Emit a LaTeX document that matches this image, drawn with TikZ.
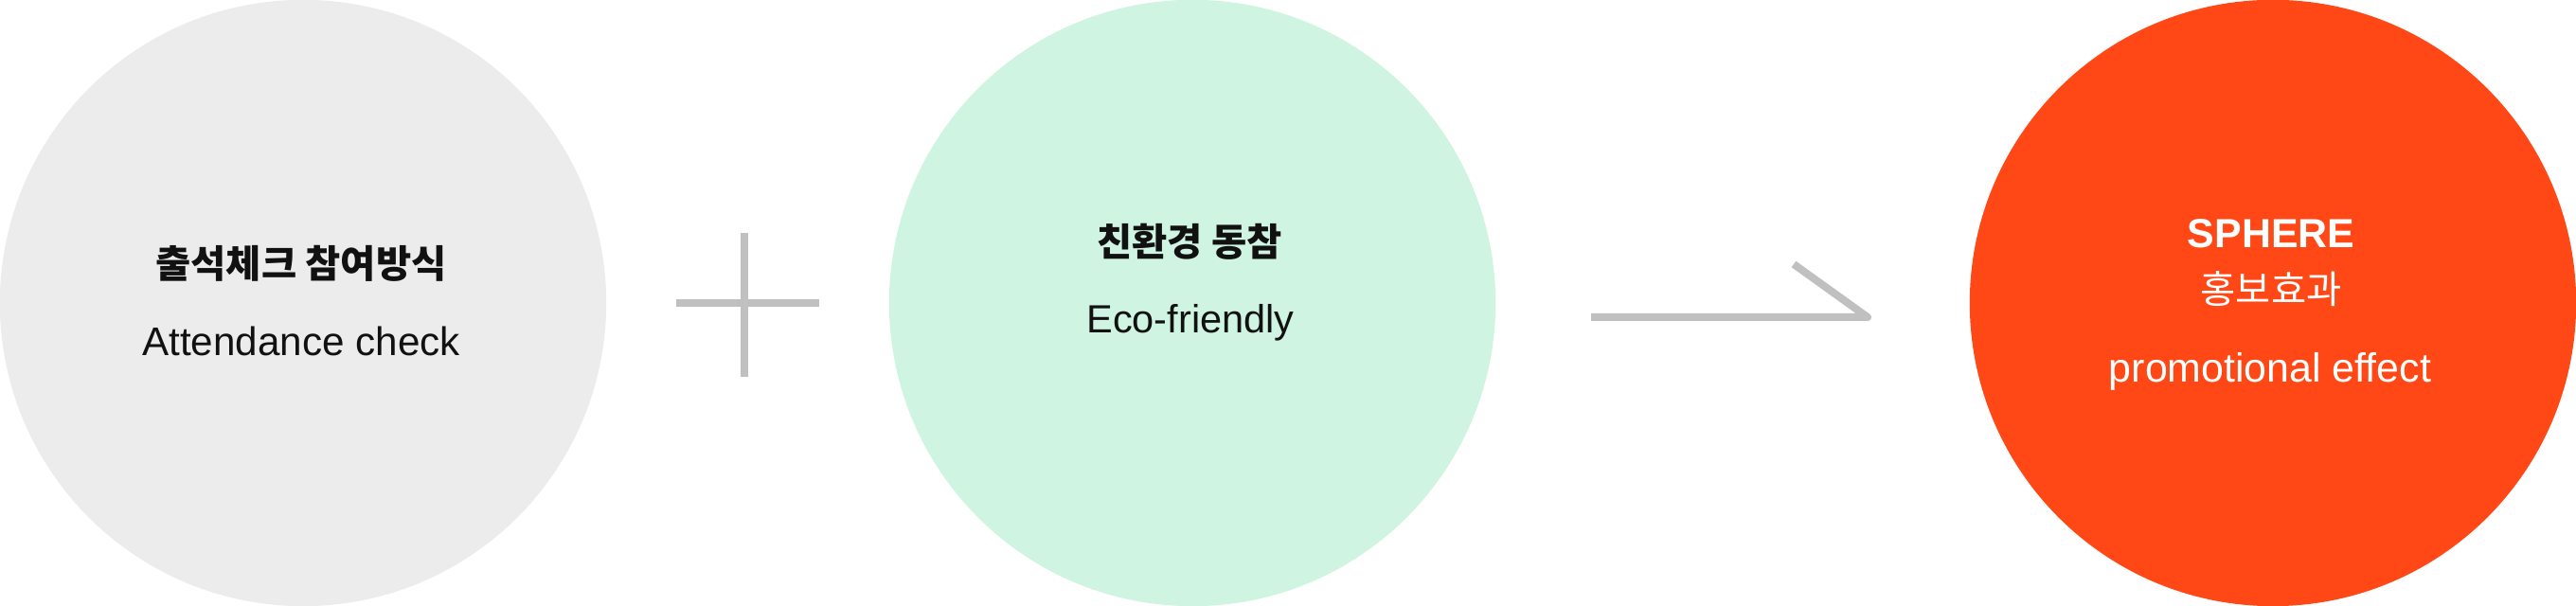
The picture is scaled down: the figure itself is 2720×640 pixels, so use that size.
\documentclass[tikz,border=0pt]{standalone}
\usepackage{fontspec}
\setmainfont{Liberation Sans}
\newfontfamily\krfont{Noto Sans CJK KR}
\usetikzlibrary{positioning}

\definecolor{ballgray}{HTML}{ECECEC}
\definecolor{ballmint}{HTML}{CFF4E2}
\definecolor{ballred}{HTML}{FF4816}
\definecolor{signgray}{HTML}{C0C0C0}
\definecolor{inkblack}{HTML}{111111}

\begin{document}
\begin{tikzpicture}[x=0.01cm, y=0.01cm,
                    ball/.style={circle,minimum size=6.4cm,inner sep=0pt},
                    ko label/.style={anchor=base,inner sep=0pt,text=inkblack,font=\krfont\bfseries\fontsize{11.5}{13}\selectfont},
                    en label/.style={anchor=base,inner sep=0pt,text=inkblack,font=\fontsize{12}{14}\selectfont},
                    sign/.style={draw=signgray,line width=0.08cm}]

  \useasboundingbox (0,0) rectangle (2720,640);

  \node[ball,fill=ballgray] (check) at (320,320) {};
  \node[ball,fill=ballmint] (eco) at (1259,320) {};
  \node[ball,fill=ballred] (sphere) at (2400,320) {};

  \node[ko label] (check ko) at (318,346) {출석체크 참여방식};
  \node[en label] (check en) at (318,264) {Attendance check};

  \node[ko label] (eco ko) at (1256,369) {친환경 동참};
  \node[en label,font=\fontsize{11.8}{14}\selectfont] (eco en) at (1257,288) {Eco-friendly};

  \node[en label,text=white,font=\bfseries\fontsize{12.2}{14}\selectfont] (sphere name) at (2398,378) {SPHERE};
  \node[ko label,text=white,font=\krfont\fontsize{11.5}{13}\selectfont] (sphere ko) at (2398,319) {홍보효과};
  \node[en label,text=white,font=\fontsize{12.2}{14}\selectfont] (sphere en) at (2397,236) {promotional effect};

  % plus between the first two
  \coordinate (plus w) at (714,320);
  \coordinate (plus e) at (865,320);
  \coordinate (plus n) at (786,394);
  \coordinate (plus s) at (786,242);
  \draw[sign] (plus w) -- (plus e);
  \draw[sign] (plus n) -- (plus s);

  % arrow to the result
  \coordinate (arrow tail) at (1680,305);
  \coordinate (arrow tip) at (1972,305);
  \coordinate (arrow barb) at (1894,361);
  \draw[sign,line join=round] (arrow tail) -- (arrow tip) -- (arrow barb);
\end{tikzpicture}
\end{document}
